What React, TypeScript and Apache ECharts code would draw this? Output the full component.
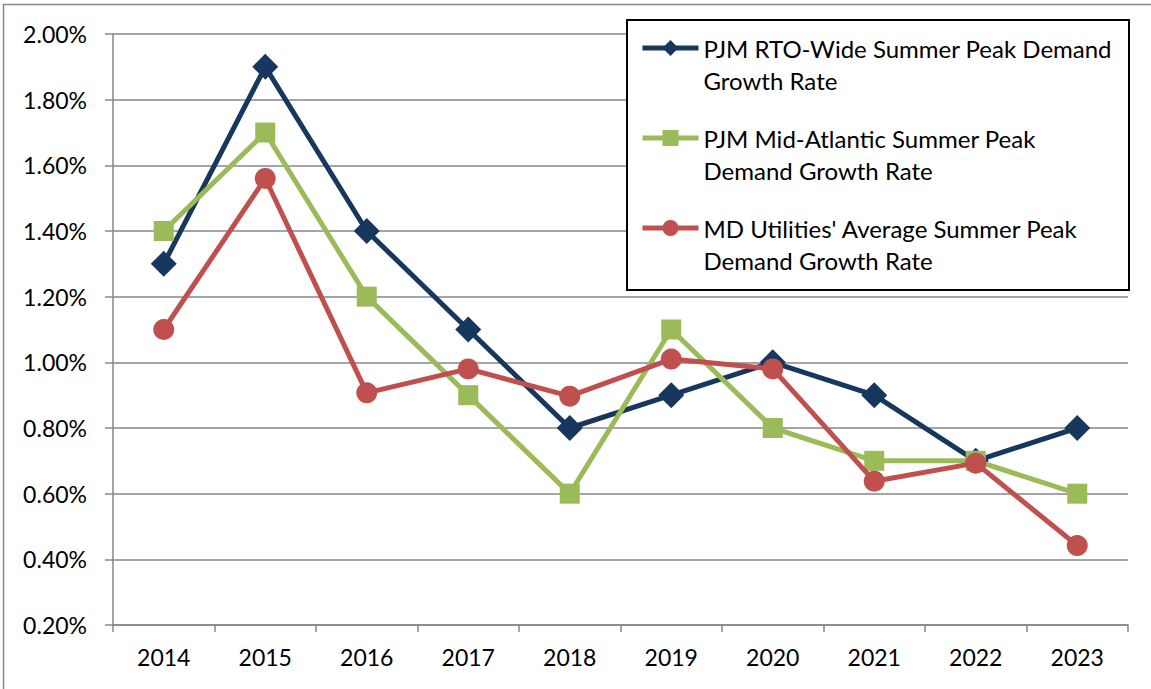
import React, { useEffect, useRef } from "react";
import * as echarts from "echarts";

const categories = ["2014", "2015", "2016", "2017", "2018", "2019", "2020", "2021", "2022", "2023"];
const rtoWide = [1.3, 1.9, 1.4, 1.1, 0.8, 0.9, 1.0, 0.9, 0.7, 0.8];
const midAtlantic = [1.4, 1.7, 1.2, 0.9, 0.6, 1.1, 0.8, 0.7, 0.7, 0.6];
const mdUtilities = [1.1, 1.56, 0.907, 0.98, 0.897, 1.01, 0.98, 0.638, 0.693, 0.442];
const seriesNames = [
  "PJM RTO-Wide Summer Peak Demand\nGrowth Rate",
  "PJM Mid-Atlantic Summer Peak\nDemand Growth Rate",
  "MD Utilities' Average Summer Peak\nDemand Growth Rate",
];

const FONT = "Lato";
const GRAY = "#878787";

export default function App() {
  const ref = useRef<HTMLDivElement>(null);
  useEffect(() => {
    document.body.style.margin = "0";
    if (!ref.current) return;
    const chart = echarts.init(ref.current, undefined, { renderer: "svg" });
    chart.setOption({
      animation: false,
      backgroundColor: "#ffffff",
      textStyle: { fontFamily: FONT },
      grid: { left: 113, right: 23, top: 34, bottom: 64, containLabel: false },
      graphic: [
        {
          type: "rect",
          z: 0,
          silent: true,
          shape: { x: 3.5, y: 4.5, width: 1300, height: 900 },
          style: { fill: "none", stroke: GRAY, lineWidth: 1.5 },
        },
        {
          type: "rect",
          z: 3,
          silent: true,
          shape: { x: 627, y: 20, width: 502, height: 270 },
          style: { fill: "#ffffff", stroke: "#000000", lineWidth: 2 },
        },
      ],
      legend: {
        show: true,
        orient: "vertical",
        left: 640,
        top: 0,
        padding: 0,
        itemWidth: 56,
        itemHeight: 20,
        itemGap: -6,
        z: 5,
        lineStyle: { width: 5 },
        formatter: (name: string) => "\n" + name,
        textStyle: {
          fontFamily: FONT,
          fontSize: 24,
          color: "#000000",
          lineHeight: 32,
        },
        data: seriesNames,
      },
      xAxis: {
        type: "category",
        data: categories,
        boundaryGap: true,
        axisLine: { show: true, lineStyle: { color: GRAY, width: 1.5 } },
        axisTick: { show: true, alignWithLabel: false, length: 7, lineStyle: { color: GRAY, width: 1.5 } },
        axisLabel: { color: "#000000", fontSize: 23, fontFamily: FONT, margin: 20 },
        splitLine: { show: false },
      },
      yAxis: {
        type: "value",
        min: 0.2,
        max: 2.0,
        interval: 0.2,
        axisLine: { show: true, lineStyle: { color: GRAY, width: 1.5 } },
        axisTick: { show: true, inside: false, length: 8, lineStyle: { color: GRAY, width: 1.5 } },
        axisLabel: {
          color: "#000000",
          fontSize: 23,
          fontFamily: FONT,
          margin: 26,
          formatter: (v: number) => v.toFixed(2) + "%",
        },
        splitLine: { show: true, lineStyle: { color: GRAY, width: 1.5 } },
      },
      series: [
        {
          name: seriesNames[0],
          type: "line",
          data: rtoWide,
          symbol: "diamond",
          symbolSize: 26,
          lineStyle: { color: "#17375E", width: 5 },
          itemStyle: { color: "#17375E" },
          z: 2,
        },
        {
          name: seriesNames[1],
          type: "line",
          data: midAtlantic,
          symbol: "rect",
          symbolSize: 20,
          lineStyle: { color: "#9BBB59", width: 5 },
          itemStyle: { color: "#9BBB59" },
          z: 3,
        },
        {
          name: seriesNames[2],
          type: "line",
          data: mdUtilities,
          symbol: "circle",
          symbolSize: 21,
          lineStyle: { color: "#C0504D", width: 5 },
          itemStyle: { color: "#C0504D" },
          z: 4,
        },
      ],
    });
    return () => chart.dispose();
  }, []);
  return (
    <div
      ref={ref}
      style={{ position: "absolute", left: 0, top: 0, width: 1151, height: 689 }}
    />
  );
}
